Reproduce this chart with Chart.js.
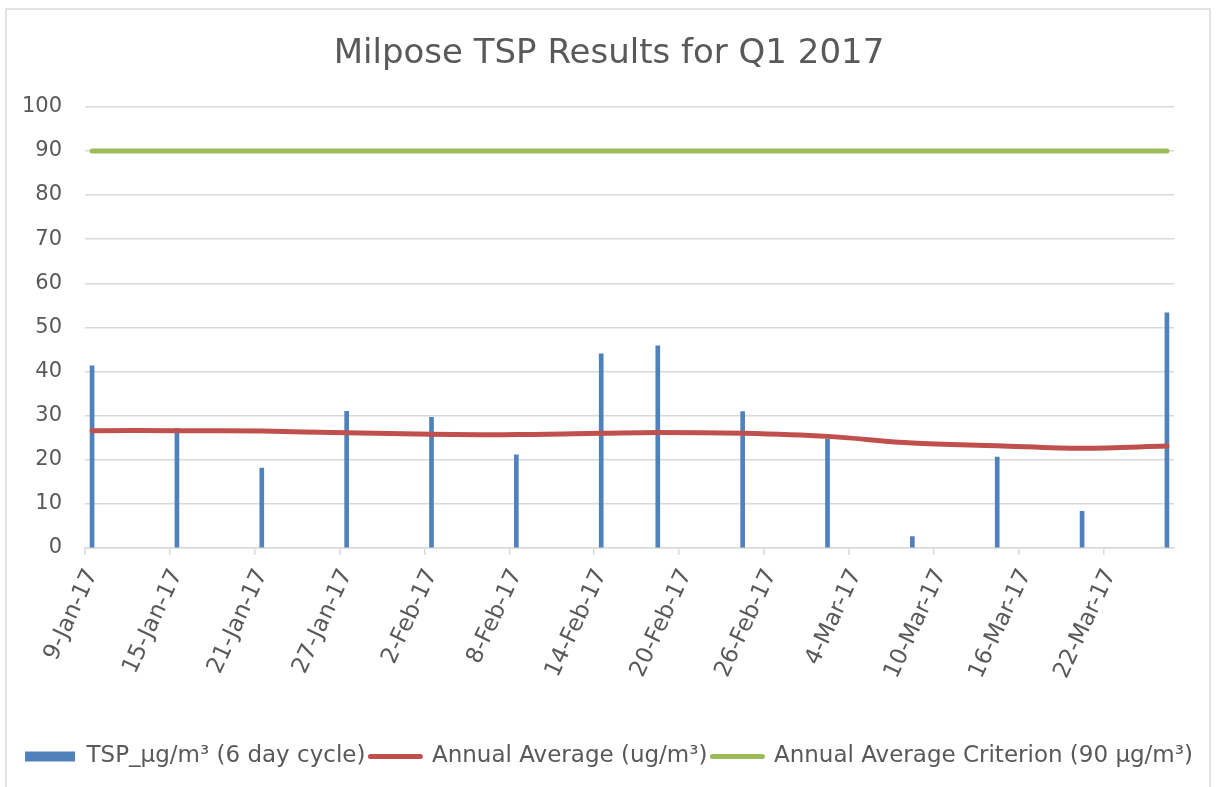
<!DOCTYPE html>
<html><head><meta charset="utf-8">
<script src="https://cdn.jsdelivr.net/npm/chart.js@4.4.1/dist/chart.umd.min.js"></script>
<style>html,body{margin:0;padding:0;background:#fff}#wrap{position:relative;width:1218px;height:787px}</style>
</head><body><div id="wrap"><canvas id="c" width="1218" height="787"></canvas></div>
<script>
// ---- data ----
const chartTitle = 'Milpose TSP Results for Q1 2017';
const axisStartDate = '2017-01-09';
const axisDays = 77;          // 9-Jan-17 .. 26-Mar-17 inclusive
const tickStepDays = 6;
const monthNames = ['Jan','Feb','Mar','Apr','May','Jun','Jul','Aug','Sep','Oct','Nov','Dec'];
const sampleDates = ['2017-01-09','2017-01-15','2017-01-21','2017-01-27','2017-02-02','2017-02-08','2017-02-14','2017-02-18','2017-02-24','2017-03-02','2017-03-08','2017-03-14','2017-03-20','2017-03-26'];
const tspValues = [41.3, 27.1, 18.1, 31.0, 29.6, 21.1, 44.0, 45.8, 30.9, 24.7, 2.6, 20.6, 8.3, 53.3];
const annualAverage = [26.6, 26.6, 26.5, 26.1, 25.8, 25.7, 26.0, 26.2, 26.0, 25.3, 23.8, 23.2, 22.6, 23.1];
const criterionValues = [90, 90, 90, 90, 90, 90, 90, 90, 90, 90, 90, 90, 90, 90];
const seriesNames = ['TSP_\u00b5g/m\u00b3 (6 day cycle)', 'Annual Average (ug/m\u00b3)', 'Annual Average Criterion (90 \u00b5g/m\u00b3)'];
const yMin = 0, yMax = 100, yStep = 10;

// ---- helpers ----
const DAY = 86400000;
const t0 = Date.parse(axisStartDate + 'T00:00:00Z');
const dayIndex = d => (Date.parse(d + 'T00:00:00Z') - t0) / DAY;
const fmtDay = v => { const dt = new Date(t0 + v * DAY); return dt.getUTCDate() + '-' + monthNames[dt.getUTCMonth()] + '-' + String(dt.getUTCFullYear()).slice(2); };
const pts = vals => sampleDates.map((d, i) => ({ x: dayIndex(d) + 0.5, y: vals[i] }));

const FONT = "'DejaVu Sans', sans-serif";
const TXT = '#595959';
const GRID = '#D9D9D9';
const LABEL_ROT = 65;

const frame = {
  id: 'frame',
  beforeDraw(chart) {
    const c = chart.ctx; c.save();
    c.fillStyle = '#fff'; c.fillRect(0, 0, chart.width, chart.height);
    c.strokeStyle = GRID; c.lineWidth = 1.5;
    c.strokeRect(6, 9, 1204, 800);
    c.restore();
  }
};

new Chart(document.getElementById('c'), {
  type: 'bar',
  data: {
    datasets: [
      { type: 'bar', label: seriesNames[0], data: pts(tspValues), backgroundColor: '#4F81BD', barThickness: 4, order: 2 },
      { type: 'line', label: seriesNames[1], data: pts(annualAverage), borderColor: '#C0504D', backgroundColor: '#C0504D', borderWidth: 5, tension: 0.33, pointRadius: 0, borderCapStyle: 'round', borderJoinStyle: 'round', order: 1 },
      { type: 'line', label: seriesNames[2], data: pts(criterionValues), borderColor: '#9BBB59', backgroundColor: '#9BBB59', borderWidth: 5, pointRadius: 0, borderCapStyle: 'round', order: 1 }
    ]
  },
  options: {
    responsive: false,
    animation: false,
    layout: { padding: { left: 6, right: 6, top: 10, bottom: 9 } },
    plugins: {
      title: { display: true, text: chartTitle, color: TXT, font: { family: FONT, size: 34, weight: 'normal' }, padding: { top: 24, bottom: 32 } },
      tooltip: { enabled: false },
      legend: {
        position: 'bottom',
        labels: {
          usePointStyle: true, pointStyleWidth: 50, boxHeight: 10, padding: 5,
          color: TXT, font: { family: FONT, size: 23 },
          generateLabels: chart => chart.data.datasets.map((ds, i) => ({
            text: ds.label, datasetIndex: i, fontColor: TXT, hidden: false,
            pointStyle: ds.type === 'bar' ? 'rect' : 'line',
            fillStyle: ds.type === 'bar' ? ds.backgroundColor : ds.borderColor,
            strokeStyle: ds.type === 'bar' ? ds.backgroundColor : ds.borderColor,
            lineWidth: ds.type === 'bar' ? 0 : 5, lineCap: 'round'
          }))
        }
      }
    },
    scales: {
      x: {
        type: 'linear', min: 0, max: axisDays, offset: false,
        grid: { drawOnChartArea: false, drawTicks: true, tickLength: 7, color: GRID, lineWidth: 1.5, offset: false },
        border: { color: GRID, width: 1.5 },
        ticks: { stepSize: tickStepDays, includeBounds: false, autoSkip: false, minRotation: LABEL_ROT, maxRotation: LABEL_ROT, labelOffset: 7, color: TXT, font: { family: FONT, size: 23 }, padding: 10, callback: v => fmtDay(v) },
        afterCalculateLabelRotation: s => { s.labelRotation = LABEL_ROT; },
        afterFit: s => { s.height = 192; }
      },
      y: {
        min: yMin, max: yMax,
        ticks: { stepSize: yStep, color: TXT, font: { family: FONT, size: 21 }, padding: 23 },
        grid: { color: GRID, lineWidth: 1.5, drawTicks: false },
        border: { display: false },
        afterFit: s => { s.width = 79; }
      },
      yRight: {
        position: 'right', display: true, min: yMin, max: yMax,
        ticks: { display: false },
        grid: { drawOnChartArea: false, drawTicks: false },
        border: { display: false },
        afterFit: s => { s.width = 38; }
      }
    }
  },
  plugins: [frame]
});
</script>
</body></html>
